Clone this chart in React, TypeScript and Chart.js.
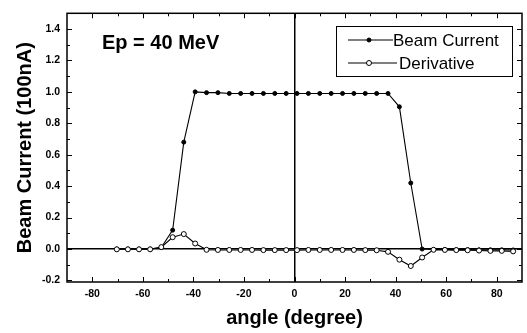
import React, { useEffect, useRef } from 'react';
import { Chart, registerables } from 'chart.js';

Chart.register(...registerables);

const angles = [-70.3, -65.9, -61.5, -57.1, -52.7, -48.2, -43.8, -39.3, -34.8, -30.3, -25.8, -21.3, -16.8, -12.3, -7.8, -3.3, 1.0, 5.5, 10.0, 14.5, 19.0, 23.5, 28.0, 32.5, 37.0, 41.5, 46.0, 50.5, 55.0, 59.5, 64.0, 68.5, 73.0, 77.5, 82.0, 86.5];
const beamCurrent = [0, 0, 0, 0, 0.01, 0.12, 0.68, 1.0, 0.995, 0.995, 0.99, 0.99, 0.99, 0.99, 0.99, 0.99, 0.99, 0.99, 0.99, 0.99, 0.99, 0.99, 0.99, 0.99, 0.99, 0.905, 0.42, 0.0, -0.003, -0.003, -0.004, -0.004, -0.005, -0.005, -0.005, -0.006];
const derivative = [-0.002, -0.002, -0.002, -0.002, 0.012, 0.075, 0.095, 0.035, -0.005, -0.006, -0.006, -0.006, -0.006, -0.007, -0.007, -0.007, -0.007, -0.006, -0.006, -0.006, -0.006, -0.006, -0.007, -0.008, -0.018, -0.068, -0.108, -0.054, -0.005, -0.006, -0.007, -0.008, -0.01, -0.012, -0.012, -0.015];

const xTickValues = [-80, -60, -40, -20, 0, 20, 40, 60, 80];
const yTickValues = [-0.2, 0, 0.2, 0.4, 0.6, 0.8, 1.0, 1.2, 1.4];
const seriesLabels = ['Beam Current', 'Derivative'];
const annotationText = 'Ep = 40 MeV';
const xTitle = 'angle (degree)';
const yTitle = 'Beam Current (100nA)';

const FONT = '"Liberation Sans", Arial, Helvetica, sans-serif';

const framePlugin = {
  id: 'frameTicks',
  afterDraw(chart: any) {
    const { ctx, chartArea, scales } = chart;
    const { left, right, top, bottom } = chartArea;
    const x = scales.x;
    const y = scales.y;
    ctx.save();
    ctx.strokeStyle = '#000';
    ctx.lineWidth = 1.5;
    ctx.strokeRect(left, top, right - left, bottom - top);
    ctx.lineWidth = 1;
    ctx.beginPath();
    for (let k = -8; k <= 8; k++) {
      const px = Math.round(x.getPixelForValue(k * 10)) + 0.5;
      const len = k % 2 === 0 ? 5 : 3;
      ctx.moveTo(px, bottom);
      ctx.lineTo(px, bottom - len);
      ctx.moveTo(px, top);
      ctx.lineTo(px, top + len);
    }
    for (let k = -2; k <= 14; k++) {
      const py = Math.round(y.getPixelForValue(k / 10)) + 0.5;
      const len = k % 2 === 0 ? 5 : 3;
      ctx.moveTo(left, py);
      ctx.lineTo(left + len, py);
      ctx.moveTo(right, py);
      ctx.lineTo(right - len, py);
    }
    ctx.stroke();

    // annotation
    ctx.fillStyle = '#000';
    ctx.font = `bold 20px ${FONT}`;
    ctx.textBaseline = 'alphabetic';
    ctx.textAlign = 'left';
    ctx.fillText(annotationText, 102, 49);

    // legend
    const bx = 336, by = 26, bw = 176, bh = 50;
    ctx.lineWidth = 1;
    ctx.strokeRect(bx + 0.5, by + 0.5, bw, bh);
    ctx.font = `17px ${FONT}`;
    ctx.textBaseline = 'middle';
    const rows = [
      { y: 40, x0: 348, x1: 393, tx: 393, filled: true },
      { y: 63, x0: 348, x1: 397, tx: 399, filled: false },
    ];
    rows.forEach((r, i) => {
      ctx.beginPath();
      ctx.lineWidth = 1.2;
      ctx.moveTo(r.x0, r.y);
      ctx.lineTo(r.x1, r.y);
      ctx.stroke();
      ctx.beginPath();
      ctx.arc(369, r.y, r.filled ? 2 : 2.5, 0, Math.PI * 2);
      ctx.fillStyle = r.filled ? '#000' : '#fff';
      ctx.fill();
      ctx.lineWidth = 1;
      ctx.stroke();
      ctx.fillStyle = '#000';
      ctx.fillText(chart.data.datasets[i === 0 ? 1 : 0].label, r.tx, r.y + 1);
    });
    ctx.restore();
  },
};

export default function App() {
  const ref = useRef<HTMLCanvasElement | null>(null);
  useEffect(() => {
    document.body.style.margin = '0';
    const canvas = ref.current;
    if (!canvas) return;
    const zeroColor = (c: any) => (c.tick && c.tick.value === 0 ? '#000' : 'rgba(0,0,0,0)');
    const chart = new Chart(canvas, {
      type: 'line',
      data: {
        datasets: [
          {
            label: seriesLabels[1],
            data: angles.map((a, i) => ({ x: a, y: derivative[i] })),
            borderColor: '#000',
            borderWidth: 1.1,
            pointRadius: 2.5,
            pointBackgroundColor: '#fff',
            pointBorderColor: '#000',
            pointBorderWidth: 1,
            order: 0,
          },
          {
            label: seriesLabels[0],
            data: angles.map((a, i) => ({ x: a, y: beamCurrent[i] })),
            borderColor: '#000',
            borderWidth: 1.1,
            pointRadius: 2,
            pointBackgroundColor: '#000',
            pointBorderColor: '#000',
            pointBorderWidth: 1,
            order: 1,
          },
        ],
      },
      options: {
        animation: false,
        responsive: false,
        maintainAspectRatio: false,
        layout: { padding: { top: 8, right: 2, left: 0, bottom: 0 } },
        plugins: { legend: { display: false }, tooltip: { enabled: false } },
        scales: {
          x: {
            type: 'linear',
            min: -90,
            max: 90,
            afterBuildTicks: (s: any) => {
              s.ticks = xTickValues.map((v) => ({ value: v }));
            },
            afterFit: (s: any) => {
              s.height = 51;
            },
            ticks: {
              color: '#000',
              padding: 6,
              maxRotation: 0,
              font: { family: FONT, size: 10.5, weight: 'bold' },
              callback: (v: any) => String(v),
            },
            grid: { color: zeroColor, lineWidth: 1.5, drawTicks: false },
            border: { display: false },
            title: {
              display: true,
              text: xTitle,
              color: '#000',
              font: { family: FONT, size: 20, weight: 'bold' },
              padding: { top: 0, bottom: 3 },
            },
          },
          y: {
            type: 'linear',
            min: -0.21,
            max: 1.5,
            afterBuildTicks: (s: any) => {
              s.ticks = yTickValues.map((v) => ({ value: v }));
            },
            afterFit: (s: any) => {
              s.width = 67;
            },
            ticks: {
              color: '#000',
              padding: 7,
              font: { family: FONT, size: 10.5, weight: 'bold' },
              callback: (v: any) => Number(v).toFixed(1),
            },
            grid: { color: zeroColor, lineWidth: 1.5, drawTicks: false },
            border: { display: false },
            title: {
              display: true,
              text: yTitle,
              color: '#000',
              font: { family: FONT, size: 20, weight: 'bold' },
              padding: { top: 13, bottom: 0 },
            },
          },
        },
      },
      plugins: [framePlugin],
    });
    return () => chart.destroy();
  }, []);
  return (
    <div style={{ position: 'absolute', left: 0, top: 0, width: 527, height: 333, background: '#fff' }}>
      <canvas ref={ref} width={527} height={333} />
    </div>
  );
}
